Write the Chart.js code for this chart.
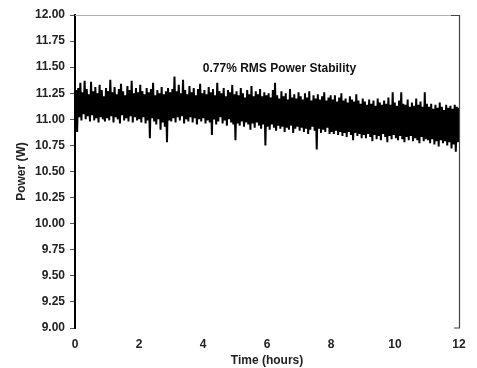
<!DOCTYPE html>
<html>
<head>
<meta charset="utf-8">
<script src="https://cdn.jsdelivr.net/npm/chart.js@4.4.1/dist/chart.umd.min.js"></script>
<style>
  html, body { margin: 0; padding: 0; background: #fff; }
  #wrap { width: 477px; height: 368px; }
</style>
</head>
<body>
<div id="wrap"><canvas id="powerChart" width="477" height="368"></canvas></div>
<script>
// power readings (W), 30 samples per hour over 12 hours
const hour0 = [10.90, 11.28, 10.88, 11.30, 11.02, 11.35, 10.99, 11.26, 11.05, 11.37, 11.00, 11.29, 11.03, 11.24, 10.98, 11.36, 11.04, 11.27, 10.99, 11.31, 11.01, 11.25, 10.97, 11.33, 11.02, 11.28, 11.00, 11.22, 10.98, 11.30];
const hour1 = [11.01, 11.27, 10.99, 11.38, 11.03, 11.26, 10.97, 11.31, 11.02, 11.24, 11.00, 11.29, 10.96, 11.34, 11.04, 11.27, 10.99, 11.23, 11.01, 11.32, 10.98, 11.28, 11.03, 11.37, 10.97, 11.25, 11.02, 11.30, 10.99, 11.26];
const hour2 = [11.00, 11.33, 10.97, 11.27, 11.02, 11.24, 10.96, 11.30, 10.99, 11.26, 10.82, 11.29, 11.01, 11.35, 10.98, 11.23, 10.95, 11.28, 11.00, 11.25, 10.90, 11.31, 10.97, 11.24, 10.93, 11.27, 10.78, 11.30, 10.99, 11.26];
const hour3 = [10.98, 11.29, 11.01, 11.41, 10.97, 11.27, 11.02, 11.33, 10.99, 11.25, 11.03, 11.38, 10.96, 11.28, 11.00, 11.24, 10.98, 11.32, 11.02, 11.26, 10.97, 11.30, 11.01, 11.23, 10.95, 11.29, 11.00, 11.34, 10.98, 11.25];
const hour4 = [11.01, 11.28, 10.96, 11.24, 10.99, 11.31, 10.97, 11.26, 10.85, 11.29, 11.00, 11.23, 10.95, 11.35, 10.98, 11.27, 11.02, 11.25, 10.96, 11.30, 10.99, 11.22, 10.94, 11.28, 11.00, 11.26, 10.97, 11.33, 10.95, 11.24];
const hour5 = [10.80, 11.27, 10.96, 11.23, 10.94, 11.30, 10.98, 11.25, 10.93, 11.21, 10.97, 11.28, 10.95, 11.24, 10.90, 11.32, 10.96, 11.22, 10.92, 11.27, 10.97, 11.24, 10.94, 11.29, 10.91, 11.22, 10.95, 11.26, 10.75, 11.23];
const hour6 = [10.93, 11.25, 10.90, 11.21, 10.95, 11.28, 10.92, 11.35, 10.89, 11.23, 10.94, 11.20, 10.91, 11.27, 10.93, 11.22, 10.88, 11.25, 10.92, 11.19, 10.90, 11.29, 10.94, 11.21, 10.87, 11.24, 10.91, 11.20, 10.93, 11.26];
const hour7 = [10.89, 11.22, 10.92, 11.19, 10.88, 11.25, 10.91, 11.21, 10.86, 11.27, 10.90, 11.18, 10.93, 11.23, 10.89, 11.20, 10.71, 11.24, 10.91, 11.19, 10.87, 11.22, 10.90, 11.26, 10.88, 11.18, 10.92, 11.21, 10.86, 11.23];
const hour8 = [10.88, 11.19, 10.86, 11.23, 10.89, 11.17, 10.85, 11.21, 10.88, 11.25, 10.84, 11.18, 10.87, 11.20, 10.83, 11.16, 10.88, 11.22, 10.85, 11.19, 10.80, 11.17, 10.87, 11.24, 10.84, 11.18, 10.86, 11.15, 10.82, 11.20];
const hour9 = [10.85, 11.17, 10.82, 11.14, 10.86, 11.19, 10.83, 11.15, 10.79, 11.18, 10.85, 11.13, 10.81, 11.20, 10.84, 11.16, 10.80, 11.14, 10.86, 11.18, 10.83, 11.15, 10.78, 11.21, 10.84, 11.14, 10.81, 11.26, 10.85, 11.16];
const hour10 = [10.82, 11.13, 10.80, 11.18, 10.84, 11.26, 10.81, 11.15, 10.78, 11.14, 10.83, 11.19, 10.80, 11.12, 10.84, 11.16, 10.79, 11.13, 10.82, 11.20, 10.80, 11.14, 10.77, 11.17, 10.83, 11.12, 10.79, 11.26, 10.81, 11.15];
const hour11 = [10.80, 11.12, 10.77, 11.15, 10.81, 11.10, 10.76, 11.14, 10.79, 11.11, 10.74, 11.16, 10.80, 11.12, 10.77, 11.09, 10.79, 11.14, 10.75, 11.11, 10.78, 11.13, 10.72, 11.10, 10.76, 11.14, 10.69, 11.12, 10.78, 11.11];

const powerValues = [].concat(hour0, hour1, hour2, hour3, hour4, hour5, hour6, hour7, hour8, hour9, hour10, hour11);
const totalHours = 12;
const annotationText = "0.77% RMS Power Stability";

const points = powerValues.map((v, i) => ({
  x: (i * totalHours) / (powerValues.length - 1),
  y: v,
}));

const fontFamily = "'Liberation Sans', Arial, sans-serif";

// top + right frame lines and the note text
const framePlugin = {
  id: "frame",
  afterDraw(chart) {
    const { ctx, chartArea } = chart;
    const { left, right, top, bottom } = chartArea;
    ctx.save();
    ctx.strokeStyle = "#b0b0b0";
    ctx.lineWidth = 1;
    ctx.beginPath();
    ctx.moveTo(left, top + 0.5);
    ctx.lineTo(right, top + 0.5);
    ctx.stroke();

    ctx.strokeStyle = "#444";
    ctx.lineWidth = 1.2;
    ctx.beginPath();
    ctx.moveTo(right - 8, top + 0.5);
    ctx.lineTo(right + 0.5, top + 0.5);
    ctx.lineTo(right + 0.5, bottom);
    ctx.lineTo(right - 5, bottom);
    ctx.stroke();

    const xs = chart.scales.x;
    const ys = chart.scales.y;
    ctx.fillStyle = "#111";
    ctx.font = "bold 12px " + fontFamily;
    ctx.textAlign = "center";
    ctx.textBaseline = "middle";
    ctx.fillText(annotationText, xs.getPixelForValue(6.39), ys.getPixelForValue(11.49));
    ctx.restore();
  },
};

const ctx = document.getElementById("powerChart").getContext("2d");
new Chart(ctx, {
  type: "line",
  data: {
    datasets: [
      {
        data: points,
        borderColor: "#000",
        borderWidth: 2,
        pointRadius: 0,
        tension: 0,
        fill: false,
      },
    ],
  },
  options: {
    responsive: false,
    animation: false,
    layout: { padding: { left: 0, right: 18, top: 15, bottom: 0 } },
    plugins: {
      legend: { display: false },
      tooltip: { enabled: false },
    },
    scales: {
      x: {
        type: "linear",
        min: 0,
        max: 12,
        border: { display: false },
        grid: { display: false },
        ticks: {
          stepSize: 2,
          padding: 1,
          color: "#222",
          font: { family: fontFamily, size: 12, weight: "bold" },
        },
        title: {
          display: true,
          text: "Time (hours)",
          color: "#222",
          padding: { top: 4, bottom: 0 },
          font: { family: fontFamily, size: 12, weight: "bold" },
        },
        afterFit(scale) {
          scale.height = 40;
        },
      },
      y: {
        min: 9,
        max: 12,
        border: { display: true, color: "#000", width: 2 },
        grid: {
          drawOnChartArea: false,
          drawTicks: true,
          tickLength: 5,
          color: "#555",
        },
        ticks: {
          stepSize: 0.25,
          padding: 5,
          color: "#222",
          font: { family: fontFamily, size: 12, weight: "bold" },
          callback: (v) => v.toFixed(2),
        },
        title: {
          display: true,
          text: "Power (W)",
          color: "#222",
          padding: { top: 14, bottom: 0 },
          font: { family: fontFamily, size: 12, weight: "bold" },
        },
        afterFit(scale) {
          scale.width = 75;
        },
      },
    },
  },
  plugins: [framePlugin],
});
</script>
</body>
</html>
